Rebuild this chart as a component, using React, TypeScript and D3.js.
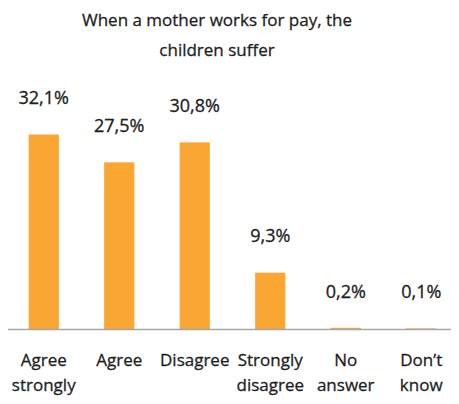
import React, { useRef, useEffect } from 'react';
import * as d3 from 'd3';

const categories = ['Agree strongly', 'Agree', 'Disagree', 'Strongly disagree', 'No answer', "Don\u2019t know"];
const catLines = [['Agree', 'strongly'], ['Agree'], ['Disagree'], ['Strongly', 'disagree'], ['No', 'answer'], ['Don\u2019t', 'know']];
const values = [32.1, 27.5, 30.8, 9.3, 0.2, 0.1];
const valueLabels = ['32,1%', '27,5%', '30,8%', '9,3%', '0,2%', '0,1%'];
const titleLines = ['When a mother works for pay, the', 'children suffer'];

const W = 459;
const H = 404;

const App = () => {
  const ref = useRef<SVGSVGElement>(null);

  useEffect(() => {
    const svg = d3.select(ref.current);
    svg.selectAll('*').remove();
    const font = '"Open Sans", sans-serif';
    const baseY = 329;

    const x = d3.scaleBand<string>()
      .domain(categories)
      .range([6, 459])
      .paddingInner(0.6)
      .paddingOuter(0.3);

    const y = d3.scaleLinear()
      .domain([0, 32.1])
      .range([baseY, 134.5]);

    // titulo
    svg.append('g')
      .selectAll('text')
      .data(titleLines)
      .join('text')
      .attr('x', 217)
      .attr('y', (d, i) => 20 + i * 30)
      .attr('dy', '0.35em')
      .attr('text-anchor', 'middle')
      .style('font-family', font)
      .style('font-size', '17px')
      .style('fill', '#1e1e1e')
      .style('stroke', '#1e1e1e')
      .style('stroke-width', 0.3)
      .text(d => d);

    const data = categories.map((c, i) => ({ c, v: values[i], label: valueLabels[i], lines: catLines[i] }));

    svg.append('g')
      .selectAll('rect')
      .data(data)
      .join('rect')
      .attr('x', d => x(d.c)!)
      .attr('y', d => y(d.v))
      .attr('width', x.bandwidth())
      .attr('height', d => baseY - y(d.v))
      .style('fill', '#F9A633');

    // eje
    svg.append('line')
      .attr('x1', 5)
      .attr('x2', 459)
      .attr('y1', baseY + 0.5)
      .attr('y2', baseY + 0.5)
      .style('stroke', '#a6a6a6')
      .style('stroke-width', 1.3);

    svg.append('g')
      .selectAll('text')
      .data(data)
      .join('text')
      .attr('x', d => x(d.c)! + x.bandwidth() / 2)
      .attr('y', d => y(d.v) - 36.5)
      .attr('dy', '0.35em')
      .attr('text-anchor', 'middle')
      .style('font-family', font)
      .style('font-size', '18px')
      .style('fill', '#1e1e1e')
      .style('stroke', '#1e1e1e')
      .style('stroke-width', 0.3)
      .text(d => d.label);

    const cats = svg.append('g')
      .selectAll('text')
      .data(data)
      .join('text')
      .attr('x', d => x(d.c)! + x.bandwidth() / 2)
      .attr('y', 360)
      .attr('text-anchor', 'middle')
      .style('font-family', font)
      .style('font-size', '17px')
      .style('fill', '#1e1e1e')
      .style('stroke', '#1e1e1e')
      .style('stroke-width', 0.3);

    cats.selectAll('tspan')
      .data(d => d.lines)
      .join('tspan')
      .attr('x', function () {
        return (d3.select(this.parentNode as SVGTextElement).attr('x'));
      })
      .attr('dy', (d, i) => (i === 0 ? '0.35em' : '25px'))
      .text(d => d);
  }, []);

  return <svg ref={ref} width={W} height={H} style={{ display: 'block', margin: '-8px' }}></svg>;
};

export default App;
